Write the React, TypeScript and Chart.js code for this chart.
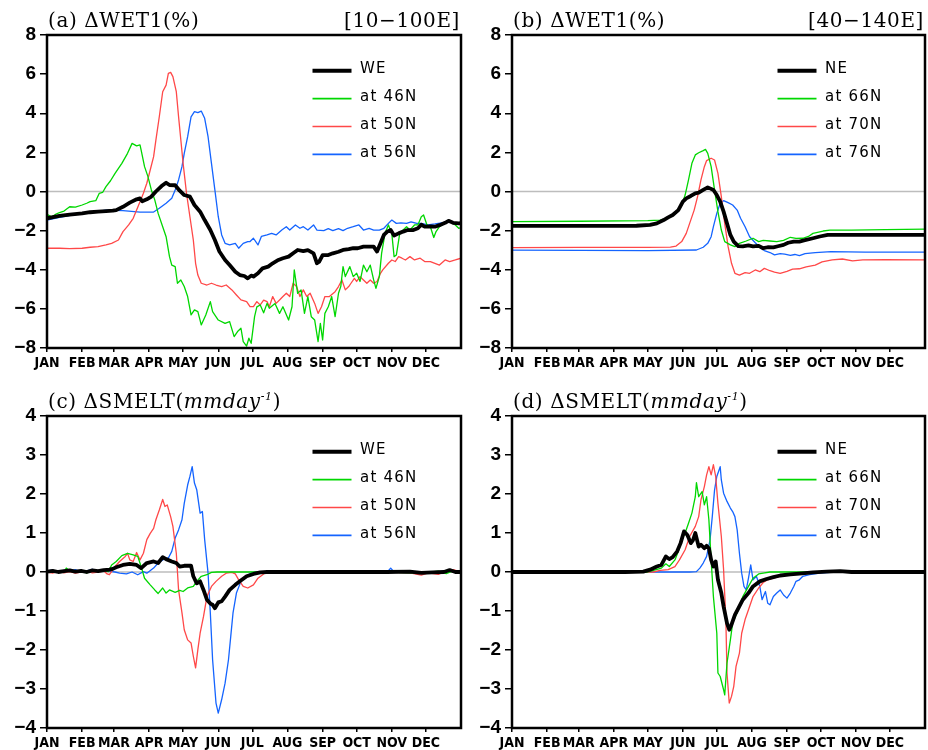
import React, { useEffect, useRef } from "react";
import { Chart, registerables } from "chart.js";

Chart.register(...registerables);

type Pt = [number, number];

// Day-of-year positions of month starts and their labels
const MONTH_DAYS = [0, 31, 59, 90, 120, 151, 181, 212, 243, 273, 304, 334];
const MONTH_LABELS = ["JAN", "FEB", "MAR", "APR", "MAY", "JUN", "JUL", "AUG", "SEP", "OCT", "NOV", "DEC"];

// ---- (a) WET1 change, 10-100E ----
const WE_WET1: Pt[] = [
  [0, -1.37], [11, -1.25], [20, -1.18], [31, -1.12], [38, -1.06], [45, -1.03], [52, -1.0], [58, -0.98],
  [61, -0.95], [67, -0.78], [73, -0.57], [79, -0.4], [82, -0.35], [84, -0.5], [88, -0.4], [92, -0.26],
  [96, 0.0], [101, 0.28], [105, 0.45], [108, 0.33], [113, 0.32], [117, 0.04], [121, -0.18], [126, -0.26],
  [130, -0.69], [135, -1.03], [139, -1.46], [144, -1.97], [148, -2.48], [152, -3.07], [157, -3.5],
  [161, -3.76], [166, -4.1], [170, -4.27], [174, -4.32], [177, -4.44], [180, -4.3], [182, -4.35],
  [186, -4.18], [190, -3.93], [195, -3.84], [199, -3.67], [204, -3.5], [208, -3.41], [213, -3.33],
  [217, -3.16], [221, -2.99], [226, -3.05], [230, -3.0], [235, -3.16], [238, -3.67], [240, -3.59],
  [243, -3.25], [248, -3.25], [252, -3.16], [257, -3.08], [261, -2.99], [266, -2.95], [270, -2.9],
  [274, -2.9], [279, -2.82], [283, -2.82], [288, -2.82], [291, -3.07], [294, -2.65], [297, -2.22],
  [300, -2.05], [303, -1.97], [306, -2.25], [310, -2.14], [314, -2.05], [318, -1.97], [323, -1.97],
  [327, -1.88], [330, -1.7], [333, -1.8], [338, -1.78], [342, -1.8], [346, -1.72], [351, -1.6],
  [354, -1.5], [358, -1.6], [363, -1.63], [365, -1.62],
];
const WET1_46N: Pt[] = [
  [0, -1.17], [4, -1.3], [8, -1.15], [11, -1.08], [15, -1.0], [20, -0.78], [25, -0.8], [31, -0.69],
  [35, -0.6], [38, -0.52], [43, -0.47], [46, -0.1], [49, -0.05], [52, 0.25], [56, 0.55], [60, 0.93],
  [66, 1.44], [71, 1.95], [75, 2.46], [79, 2.33], [82, 2.38], [83, 2.12], [86, 1.27], [89, 0.76],
  [92, 0.08], [95, -0.43], [98, -1.12], [102, -1.8], [105, -2.31], [108, -3.33], [110, -3.76],
  [113, -3.84], [115, -4.69], [118, -4.52], [121, -4.86], [124, -5.37], [127, -6.31], [130, -6.05],
  [133, -6.14], [136, -6.82], [140, -6.31], [144, -5.63], [146, -6.14], [151, -6.57], [157, -6.74],
  [161, -6.65], [165, -7.42], [168, -7.16], [171, -6.99], [173, -7.67], [176, -7.9], [178, -7.5],
  [180, -7.76], [183, -6.4], [185, -5.9], [188, -5.8], [191, -6.2], [194, -5.72], [196, -5.97],
  [201, -5.72], [205, -6.23], [208, -5.89], [213, -6.57], [216, -5.89], [218, -4.01], [221, -5.21],
  [224, -5.03], [227, -6.23], [230, -5.37], [233, -6.4], [236, -6.57], [239, -7.67], [241, -6.74],
  [243, -7.59], [245, -6.23], [248, -5.89], [251, -5.37], [254, -6.4], [257, -5.2], [259, -4.86],
  [261, -3.84], [263, -4.35], [267, -3.84], [270, -4.35], [273, -4.18], [276, -4.6], [279, -3.76],
  [282, -4.1], [285, -3.76], [288, -4.52], [290, -4.95], [293, -4.35], [295, -3.16], [298, -2.14],
  [301, -1.71], [304, -2.14], [306, -3.33], [308, -3.25], [311, -2.14], [314, -1.97], [317, -1.8],
  [320, -1.97], [324, -1.71], [327, -1.71], [330, -1.29], [332, -1.2], [335, -1.71], [338, -1.8],
  [341, -2.35], [343, -2.05], [346, -1.8], [351, -1.6], [355, -1.54], [360, -1.71], [363, -1.88],
  [365, -1.85],
];
const WET1_50N: Pt[] = [
  [0, -2.9], [11, -2.9], [20, -2.92], [31, -2.9], [38, -2.85], [45, -2.82], [52, -2.73], [57, -2.65],
  [63, -2.48], [67, -2.05], [72, -1.71], [76, -1.37], [79, -0.95], [82, -0.52], [85, -0.09], [88, 0.42],
  [91, 1.1], [94, 1.78], [96, 2.63], [99, 3.82], [102, 5.1], [105, 5.44], [107, 6.04], [109, 6.09],
  [111, 5.87], [114, 5.1], [116, 3.82], [118, 2.63], [120, 1.44], [123, -0.09], [126, -1.29],
  [129, -2.48], [131, -3.67], [133, -4.27], [136, -4.69], [141, -4.78], [145, -4.69], [149, -4.78],
  [154, -4.86], [158, -4.78], [163, -5.03], [167, -5.29], [171, -5.54], [176, -5.63], [179, -5.89],
  [182, -5.89], [185, -5.63], [188, -5.8], [191, -5.55], [194, -5.63], [196, -5.89], [199, -5.37],
  [202, -5.72], [205, -5.55], [208, -5.37], [211, -5.2], [214, -5.37], [217, -4.69], [220, -4.86],
  [223, -5.37], [226, -5.03], [229, -5.37], [232, -5.2], [236, -5.72], [239, -6.23], [242, -5.89],
  [245, -5.37], [249, -5.37], [254, -5.12], [257, -4.86], [260, -4.52], [263, -5.03], [266, -4.86],
  [268, -4.69], [271, -4.44], [273, -4.6], [276, -4.35], [279, -4.52], [282, -4.69], [285, -4.52],
  [288, -4.69], [291, -4.6], [294, -4.18], [296, -4.01], [301, -3.67], [304, -3.5], [307, -3.58],
  [310, -3.33], [313, -3.41], [316, -3.5], [320, -3.33], [324, -3.5], [329, -3.41], [333, -3.58],
  [338, -3.58], [342, -3.67], [346, -3.76], [351, -3.5], [355, -3.58], [360, -3.5], [365, -3.41],
];
const WET1_56N: Pt[] = [
  [0, -1.46], [11, -1.32], [23, -1.2], [38, -1.08], [52, -0.95], [67, -0.98], [82, -1.05], [94, -1.05],
  [99, -0.86], [105, -0.6], [110, -0.35], [113, 0.08], [116, 0.59], [119, 1.27], [121, 1.95],
  [124, 2.8], [127, 3.82], [130, 4.08], [133, 4.03], [136, 4.11], [139, 3.74], [142, 2.8], [145, 1.44],
  [148, 0.08], [151, -1.29], [154, -2.22], [157, -2.65], [161, -2.73], [166, -2.65], [169, -2.9],
  [173, -2.65], [177, -2.56], [179, -2.56], [182, -2.39], [186, -2.73], [189, -2.3], [194, -2.22],
  [198, -2.14], [202, -2.22], [207, -1.97], [211, -1.8], [214, -1.97], [219, -1.71], [223, -1.88],
  [226, -1.8], [230, -1.97], [235, -1.71], [238, -1.97], [244, -2.0], [248, -1.9], [252, -2.0],
  [257, -1.9], [261, -2.0], [265, -1.88], [270, -1.8], [275, -1.71], [279, -1.97], [284, -1.88],
  [288, -1.97], [293, -1.97], [297, -1.88], [301, -1.63], [304, -1.46], [308, -1.63], [312, -1.6],
  [317, -1.63], [321, -1.55], [326, -1.63], [330, -1.63], [336, -1.71], [342, -1.66], [348, -1.6],
  [354, -1.54], [360, -1.63], [365, -1.66],
];

// ---- (b) WET1 change, 40-140E ----
const NE_WET1: Pt[] = [
  [0, -1.76], [30, -1.76], [60, -1.76], [90, -1.76], [110, -1.75], [122, -1.71], [128, -1.63],
  [134, -1.46], [138, -1.32], [142, -1.2], [147, -0.95], [151, -0.52], [154, -0.35], [158, -0.23],
  [162, -0.09], [165, -0.06], [169, 0.08], [173, 0.21], [175, 0.16], [178, 0.08], [181, -0.18],
  [184, -0.52], [187, -1.03], [190, -1.63], [193, -2.22], [196, -2.56], [200, -2.79], [204, -2.8],
  [209, -2.75], [213, -2.8], [218, -2.78], [222, -2.9], [226, -2.85], [231, -2.86], [235, -2.8],
  [240, -2.73], [244, -2.62], [249, -2.56], [254, -2.56], [258, -2.5], [266, -2.39], [272, -2.3],
  [279, -2.22], [290, -2.22], [320, -2.22], [365, -2.22],
];
const WET1_66N: Pt[] = [
  [0, -1.54], [60, -1.52], [120, -1.49], [131, -1.46], [137, -1.37], [144, -1.12], [150, -0.69],
  [153, -0.18], [156, 0.59], [159, 1.44], [162, 1.87], [165, 1.98], [169, 2.09], [171, 2.15],
  [173, 1.95], [176, 1.27], [179, 0.08], [182, -1.03], [185, -1.97], [188, -2.56], [193, -2.73],
  [197, -2.82], [201, -2.65], [207, -2.53], [213, -2.39], [218, -2.56], [222, -2.5], [228, -2.53],
  [234, -2.56], [240, -2.5], [246, -2.34], [251, -2.4], [257, -2.39], [262, -2.3], [266, -2.14],
  [275, -2.02], [281, -1.97], [300, -1.97], [330, -1.95], [365, -1.92],
];
const WET1_70N: Pt[] = [
  [0, -2.87], [60, -2.86], [120, -2.86], [140, -2.84], [145, -2.79], [150, -2.56], [154, -2.14],
  [157, -1.63], [161, -0.95], [164, -0.26], [167, 0.59], [170, 1.27], [172, 1.58], [176, 1.7],
  [179, 1.61], [182, 0.93], [185, -0.26], [188, -1.63], [191, -2.82], [194, -3.67], [197, -4.18],
  [201, -4.27], [206, -4.15], [210, -4.18], [215, -4.01], [219, -4.1], [223, -3.93], [228, -4.05],
  [232, -4.12], [237, -4.18], [243, -4.08], [248, -3.97], [254, -3.95], [260, -3.85], [268, -3.76],
  [274, -3.6], [283, -3.5], [292, -3.45], [301, -3.55], [310, -3.5], [330, -3.48], [365, -3.5],
];
const WET1_76N: Pt[] = [
  [0, -3.0], [60, -3.01], [120, -3.02], [163, -2.99], [169, -2.85], [173, -2.65], [176, -2.31],
  [178, -1.8], [181, -1.12], [184, -0.6], [187, -0.47], [191, -0.57], [195, -0.69], [199, -0.95],
  [202, -1.37], [206, -1.8], [210, -2.31], [215, -2.62], [219, -2.85], [223, -3.02], [228, -3.12],
  [232, -3.24], [237, -3.18], [241, -3.2], [246, -3.26], [250, -3.22], [254, -3.28], [259, -3.18],
  [268, -3.12], [282, -3.07], [312, -3.1], [365, -3.1],
];

// ---- (c) SMELT change, WE ----
const WE_SMELT: Pt[] = [
  [0, 0.01], [5, 0.03], [10, 0.0], [15, 0.02], [20, 0.04], [25, 0.01], [30, 0.03], [35, 0.0], [40, 0.04],
  [45, 0.02], [50, 0.05], [55, 0.06], [58, 0.08], [61, 0.12], [67, 0.18], [73, 0.21], [79, 0.18],
  [83, 0.1], [88, 0.23], [94, 0.27], [98, 0.23], [102, 0.38], [105, 0.33], [110, 0.27], [114, 0.23],
  [117, 0.14], [121, 0.16], [127, 0.16], [129, -0.11], [132, -0.29], [135, -0.24], [138, -0.46],
  [141, -0.71], [144, -0.81], [146, -0.84], [148, -0.93], [151, -0.78], [154, -0.75], [157, -0.63],
  [161, -0.46], [166, -0.33], [170, -0.24], [176, -0.11], [182, -0.05], [188, -0.01], [194, 0],
  [250, 0], [300, 0.0], [320, 0.01], [330, -0.02], [340, -0.01], [350, 0.0], [355, 0.05], [360, 0.0],
  [365, 0.0],
];
const SMELT_46N: Pt[] = [
  [0, 0.02], [5, 0.0], [10, 0.03], [15, 0.0], [17, 0.1], [20, 0.02], [25, 0.0], [30, 0.02], [35, -0.02],
  [40, 0.03], [45, 0.02], [50, 0.04], [54, 0.01], [57, 0.18], [61, 0.27], [66, 0.42], [71, 0.48],
  [76, 0.44], [80, 0.4], [83, 0.14], [86, -0.16], [91, -0.33], [95, -0.46], [98, -0.55], [102, -0.41],
  [105, -0.54], [108, -0.46], [113, -0.52], [117, -0.47], [120, -0.5], [124, -0.41], [129, -0.37],
  [132, -0.24], [136, -0.11], [141, -0.07], [145, -0.01], [150, 0], [300, 0], [330, -0.03],
  [345, 0.02], [352, -0.04], [358, 0.03], [365, 0],
];
const SMELT_50N: Pt[] = [
  [0, 0.0], [5, -0.03], [10, 0.02], [15, -0.02], [20, 0.01], [25, -0.03], [30, 0.0], [35, 0.02],
  [40, -0.02], [45, 0.0], [50, 0.03], [53, -0.05], [55, -0.07], [60, 0.14], [64, 0.27], [69, 0.4],
  [71, 0.48], [73, 0.31], [76, 0.27], [79, 0.5], [82, 0.31], [85, 0.48], [88, 0.83], [91, 0.99],
  [94, 1.12], [96, 1.34], [99, 1.59], [102, 1.86], [104, 1.68], [106, 1.72], [109, 1.42], [111, 1.17],
  [114, 0.48], [116, -0.46], [119, -1.05], [121, -1.48], [124, -1.74], [127, -1.82], [129, -2.16],
  [131, -2.46], [133, -1.99], [135, -1.57], [138, -1.14], [141, -0.63], [145, -0.37], [149, -0.24],
  [154, -0.11], [158, -0.03], [163, -0.01], [166, -0.05], [169, -0.2], [173, -0.37], [177, -0.41],
  [182, -0.33], [186, -0.16], [191, -0.05], [195, 0], [300, 0], [320, -0.02], [330, -0.08],
  [336, -0.02], [345, -0.06], [352, 0.02], [358, 0.06], [365, 0],
];
const SMELT_56N: Pt[] = [
  [0, 0.03], [5, 0.05], [10, 0.0], [15, 0.04], [20, 0.02], [25, 0.06], [30, 0.0], [35, 0.03],
  [40, 0.07], [45, 0.02], [50, 0.03], [55, 0.02], [60, 0.0], [64, -0.03], [70, -0.05], [75, 0.0],
  [80, -0.07], [85, 0.01], [88, -0.03], [94, 0.1], [98, 0.23], [102, 0.31], [107, 0.36], [110, 0.53],
  [113, 0.87], [116, 1.08], [119, 1.34], [121, 1.76], [124, 2.23], [126, 2.45], [128, 2.7],
  [130, 2.28], [132, 2.11], [135, 1.51], [137, 1.55], [139, 0.83], [142, -0.03], [144, -1.05],
  [146, -2.25], [149, -3.36], [151, -3.62], [154, -3.27], [157, -2.85], [160, -2.25], [162, -1.65],
  [164, -1.05], [167, -0.54], [171, -0.24], [176, -0.1], [180, -0.03], [185, 0], [300, 0], [303, 0.1],
  [306, 0.0], [330, -0.03], [345, 0.0], [355, 0.04], [365, 0],
];

// ---- (d) SMELT change, NE ----
const NE_SMELT: Pt[] = [
  [0, 0], [100, 0], [116, 0.01], [122, 0.06], [128, 0.14], [132, 0.18], [136, 0.4], [139, 0.33],
  [142, 0.38], [146, 0.53], [149, 0.74], [152, 1.04], [155, 0.95], [158, 0.74], [160, 0.82], [162, 1.0],
  [165, 0.65], [167, 0.7], [170, 0.61], [172, 0.67], [174, 0.61], [176, 0.31], [178, 0.14], [180, 0.27],
  [182, -0.2], [185, -0.54], [187, -0.88], [190, -1.31], [192, -1.48], [194, -1.35], [197, -1.1],
  [200, -0.93], [204, -0.71], [209, -0.54], [213, -0.37], [219, -0.24], [225, -0.18], [231, -0.13],
  [237, -0.09], [246, -0.06], [254, -0.04], [266, -0.01], [278, 0.01], [290, 0.02], [300, 0.0],
  [365, 0.0],
];
const SMELT_66N: Pt[] = [
  [0, 0], [119, 0], [125, 0.04], [132, 0.1], [136, 0.21], [139, 0.14], [144, 0.31], [147, 0.53],
  [150, 0.82], [153, 1.0], [156, 1.25], [159, 1.51], [162, 1.93], [163, 2.29], [165, 1.93], [168, 2.06],
  [170, 1.72], [172, 1.93], [174, 1.34], [176, 0.31], [178, -0.63], [181, -1.57], [182, -2.59],
  [184, -2.68], [187, -3.02], [188, -3.15], [190, -2.34], [193, -1.74], [195, -1.31], [200, -0.97],
  [204, -0.63], [209, -0.37], [213, -0.16], [218, -0.05], [222, -0.03], [228, 0], [365, 0],
];
const SMELT_70N: Pt[] = [
  [0, 0], [125, 0], [131, 0.04], [138, 0.06], [144, 0.14], [148, 0.31], [153, 0.57], [157, 0.91],
  [162, 1.17], [165, 1.42], [167, 1.85], [170, 2.19], [172, 2.49], [174, 2.7], [176, 2.49], [178, 2.75],
  [180, 2.45], [182, 1.76], [185, 0.91], [187, 0.06], [189, -1.22], [190, -2.59], [192, -3.36],
  [194, -3.19], [196, -2.93], [198, -2.42], [201, -2.08], [203, -1.57], [206, -1.22], [209, -0.97],
  [213, -0.63], [218, -0.41], [222, -0.27], [226, -0.2], [231, -0.16], [237, -0.11], [243, -0.07],
  [251, -0.05], [263, -0.03], [275, -0.01], [300, 0.02], [330, 0.01], [365, 0.0],
];
const SMELT_76N: Pt[] = [
  [0, 0], [157, 0], [163, 0.01], [166, 0.1], [169, 0.23], [172, 0.4], [175, 0.82], [177, 1.42],
  [179, 2.1], [181, 2.45], [184, 2.7], [185, 2.36], [187, 2.02], [190, 1.81], [193, 1.64], [195, 1.55],
  [197, 1.42], [199, 1.08], [201, 0.48], [203, -0.03], [205, -0.37], [207, -0.46], [209, -0.16],
  [211, 0.18], [213, -0.2], [216, -0.11], [219, -0.37], [221, -0.71], [224, -0.5], [226, -0.8],
  [228, -0.84], [231, -0.63], [234, -0.54], [237, -0.46], [240, -0.59], [243, -0.67], [246, -0.54],
  [249, -0.37], [251, -0.24], [254, -0.2], [257, -0.11], [263, -0.07], [272, -0.03], [284, 0],
  [290, 0.02], [300, -0.01], [310, 0.01], [365, 0],
];

const BLACK = "#000000";
const GREEN = "rgb(0,215,0)";
const RED = "rgb(255,72,72)";
const BLUE = "rgb(20,100,255)";

const SERIF = "'DejaVu Serif', 'Liberation Serif', serif";
const SANS = "'DejaVu Sans', 'Liberation Sans', sans-serif";

interface Run { text: string; font: string; dy?: number }
interface Series { label: string; data: Pt[]; color: string; width: number }
interface PanelSpec {
  key: string;
  left: number; top: number; width: number; height: number;
  padTop: number; padRight: number;
  yMin: number; yMax: number; yStep: number;
  title: Run[]; region?: string;
  series: Series[];
}

const TITLE_FONT = `20px ${SERIF}`;
const ITALIC_FONT = `italic 20px ${SERIF}`;
const SUP_FONT = `italic 11px ${SERIF}`;

const wetTitle = (tag: string): Run[] => [{ text: `(${tag}) ΔWET1(%)`, font: TITLE_FONT }];
const smeltTitle = (tag: string): Run[] => [
  { text: `(${tag}) ΔSMELT(`, font: TITLE_FONT },
  { text: "mmday", font: ITALIC_FONT },
  { text: "-1", font: SUP_FONT, dy: -8 },
  { text: ")", font: TITLE_FONT },
];

const PANELS: PanelSpec[] = [
  {
    key: "a", left: 0, top: 0, width: 470, height: 370, padTop: 35, padRight: 9,
    yMin: -8, yMax: 8, yStep: 2, title: wetTitle("a"), region: "[10−100E]",
    series: [
      { label: "WE", data: WE_WET1, color: BLACK, width: 3.8 },
      { label: "at 46N", data: WET1_46N, color: GREEN, width: 1.3 },
      { label: "at 50N", data: WET1_50N, color: RED, width: 1.3 },
      { label: "at 56N", data: WET1_56N, color: BLUE, width: 1.3 },
    ],
  },
  {
    key: "b", left: 465, top: 0, width: 463, height: 370, padTop: 35, padRight: 3,
    yMin: -8, yMax: 8, yStep: 2, title: wetTitle("b"), region: "[40−140E]",
    series: [
      { label: "NE", data: NE_WET1, color: BLACK, width: 3.8 },
      { label: "at 66N", data: WET1_66N, color: GREEN, width: 1.3 },
      { label: "at 70N", data: WET1_70N, color: RED, width: 1.3 },
      { label: "at 76N", data: WET1_76N, color: BLUE, width: 1.3 },
    ],
  },
  {
    key: "c", left: 0, top: 380, width: 470, height: 370, padTop: 36, padRight: 9,
    yMin: -4, yMax: 4, yStep: 1, title: smeltTitle("c"),
    series: [
      { label: "WE", data: WE_SMELT, color: BLACK, width: 3.8 },
      { label: "at 46N", data: SMELT_46N, color: GREEN, width: 1.3 },
      { label: "at 50N", data: SMELT_50N, color: RED, width: 1.3 },
      { label: "at 56N", data: SMELT_56N, color: BLUE, width: 1.3 },
    ],
  },
  {
    key: "d", left: 465, top: 380, width: 463, height: 370, padTop: 36, padRight: 3,
    yMin: -4, yMax: 4, yStep: 1, title: smeltTitle("d"),
    series: [
      { label: "NE", data: NE_SMELT, color: BLACK, width: 3.8 },
      { label: "at 66N", data: SMELT_66N, color: GREEN, width: 1.3 },
      { label: "at 70N", data: SMELT_70N, color: RED, width: 1.3 },
      { label: "at 76N", data: SMELT_76N, color: BLUE, width: 1.3 },
    ],
  },
];

// Zero line, frame, panel title and the in-plot key
function makeDecor(spec: PanelSpec) {
  return {
    id: `decor-${spec.key}`,
    beforeDatasetsDraw(chart: Chart) {
      const { ctx, chartArea: a } = chart;
      const y0 = chart.scales.y.getPixelForValue(0);
      ctx.save();
      ctx.strokeStyle = "#bdbdbd";
      ctx.lineWidth = 1.5;
      ctx.beginPath();
      ctx.moveTo(a.left, y0);
      ctx.lineTo(a.right, y0);
      ctx.stroke();
      ctx.restore();
    },
    afterDraw(chart: Chart) {
      const { ctx, chartArea: a } = chart;
      ctx.save();
      ctx.strokeStyle = "#000";
      ctx.lineWidth = 2.5;
      ctx.strokeRect(a.left, a.top, a.right - a.left, a.bottom - a.top);

      // title
      ctx.fillStyle = "#000";
      ctx.textBaseline = "alphabetic";
      ctx.textAlign = "left";
      (ctx as any).letterSpacing = "0.6px";
      let x = a.left + 1;
      const base = a.top - 8;
      for (const r of spec.title) {
        ctx.font = r.font;
        ctx.fillText(r.text, x, base + (r.dy || 0));
        x += ctx.measureText(r.text).width;
      }
      if (spec.region) {
        ctx.font = TITLE_FONT;
        ctx.textAlign = "right";
        ctx.fillText(spec.region, a.right - 1, base);
      }

      // key
      (ctx as any).letterSpacing = "1.2px";
      ctx.textAlign = "left";
      ctx.font = `15px ${SANS}`;
      spec.series.forEach((s, i) => {
        const ly = a.top + 35.7 + i * 27.9;
        ctx.strokeStyle = s.color;
        ctx.lineWidth = s.color === BLACK ? 4 : 1.6;
        ctx.lineCap = "butt";
        ctx.beginPath();
        ctx.moveTo(a.left + 265.5, ly);
        ctx.lineTo(a.left + 304.5, ly);
        ctx.stroke();
        ctx.fillText(s.label, a.left + 313, ly + 2.5);
      });
      ctx.restore();
    },
  };
}

const fmtY = (v: number | string) => {
  const n = Number(v);
  return n < 0 ? `−${Math.abs(n)}` : `${n}`;
};

function Panel({ spec }: { spec: PanelSpec }) {
  const ref = useRef<HTMLCanvasElement>(null);
  useEffect(() => {
    const canvas = ref.current;
    if (!canvas) return;
    const chart = new Chart(canvas, {
      type: "line",
      data: {
        datasets: spec.series.map((s) => ({
          label: s.label,
          data: s.data.map(([x, y]) => ({ x, y })),
          borderColor: s.color,
          backgroundColor: s.color,
          borderWidth: s.width,
          pointRadius: 0,
          tension: 0,
          fill: false,
          borderJoinStyle: "round" as const,
          borderCapStyle: "round" as const,
        })),
      },
      options: {
        responsive: false,
        animation: false,
        devicePixelRatio: 1,
        events: [],
        layout: { padding: { top: spec.padTop, right: spec.padRight, left: 0, bottom: 0 } },
        plugins: { legend: { display: false }, tooltip: { enabled: false }, title: { display: false } },
        scales: {
          x: {
            type: "linear",
            min: 0,
            max: 365,
            afterBuildTicks: (s: any) => {
              s.ticks = MONTH_DAYS.map((v) => ({ value: v }));
            },
            afterFit: (s: any) => {
              s.height = 22;
            },
            border: { display: false },
            grid: { drawOnChartArea: false, drawTicks: true, tickLength: 4, color: "#000", lineWidth: 1.5 },
            ticks: {
              autoSkip: false,
              maxRotation: 0,
              minRotation: 0,
              padding: 3,
              color: "#000",
              font: { family: "'Liberation Sans Narrow', 'DejaVu Sans Condensed', sans-serif", size: 14, weight: "bold" },
              callback: (v: any) => {
                const i = MONTH_DAYS.indexOf(Number(v));
                return i >= 0 ? MONTH_LABELS[i] : "";
              },
            },
          },
          y: {
            type: "linear",
            min: spec.yMin,
            max: spec.yMax,
            afterFit: (s: any) => {
              s.width = 47;
            },
            border: { display: false },
            grid: { drawOnChartArea: false, drawTicks: true, tickLength: 7, color: "#000", lineWidth: 1.5 },
            ticks: {
              stepSize: spec.yStep,
              padding: 4,
              color: "#000",
              font: { family: "'Liberation Sans', Arial, sans-serif", size: 19, weight: "bold" },
              callback: (v: any) => fmtY(v),
            },
          },
        },
      },
      plugins: [makeDecor(spec)],
    } as any);
    return () => chart.destroy();
  }, [spec]);

  return (
    <canvas
      ref={ref}
      width={spec.width}
      height={spec.height}
      style={{ position: "absolute", left: spec.left, top: spec.top, width: spec.width, height: spec.height }}
    />
  );
}

export default function App() {
  return (
    <div style={{ position: "absolute", left: 0, top: 0, width: 928, height: 750, background: "#fff" }}>
      {PANELS.map((p) => (
        <Panel key={p.key} spec={p} />
      ))}
    </div>
  );
}
